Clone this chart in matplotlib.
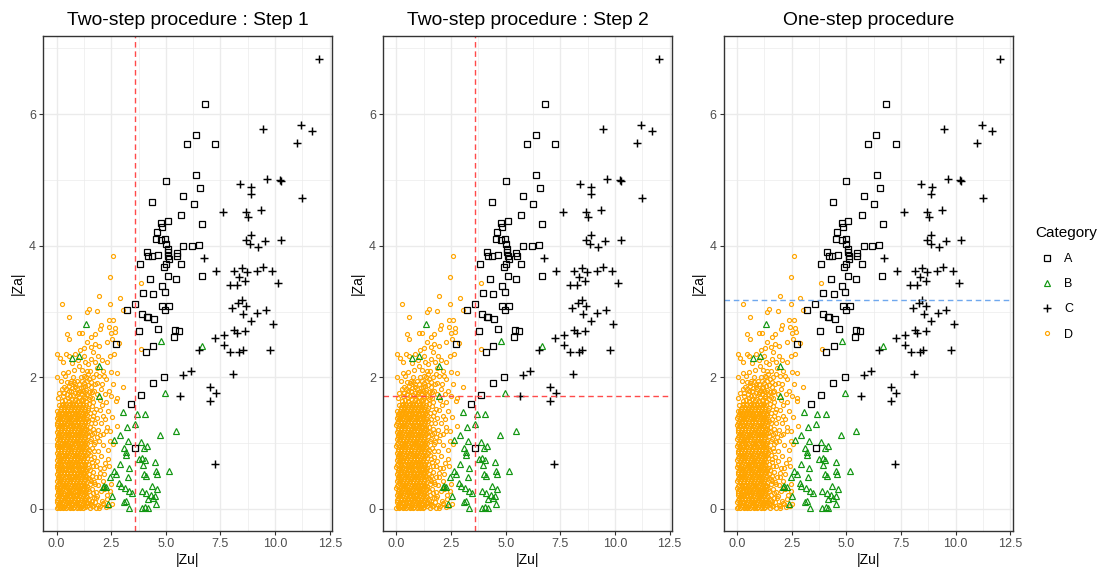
import matplotlib
matplotlib.use("Agg")
import matplotlib.pyplot as plt
from matplotlib.lines import Line2D
import numpy as np

plt.rcParams["font.family"] = ["Liberation Sans", "DejaVu Sans"]

# |Zu|, |Za| pairs per category
a_pts = [(6.81, 6.15), (6.37, 5.69), (5.98, 5.55), (7.27, 5.55), (6.40, 5.07), (5.00, 4.98),
         (6.55, 4.88), (4.38, 4.66), (5.79, 4.75), (6.27, 4.64), (5.70, 4.46), (5.09, 4.38),
         (4.80, 4.34), (4.84, 4.29), (6.66, 4.33), (4.58, 4.21), (4.54, 4.10), (4.78, 4.08),
         (4.96, 4.10), (4.99, 4.02), (5.08, 3.95), (5.79, 3.99), (6.19, 3.99), (6.50, 4.01),
         (4.13, 3.90), (4.18, 3.85), (4.35, 3.85), (4.63, 3.86), (5.10, 3.85), (5.08, 3.90),
         (5.14, 3.80), (5.49, 3.89), (5.50, 3.84), (4.99, 3.73), (4.90, 3.68), (3.84, 3.73),
         (5.71, 3.73), (5.09, 3.54), (6.64, 3.54), (4.29, 3.49), (5.45, 3.49), (4.81, 3.39),
         (3.94, 3.28), (4.43, 3.27), (4.95, 3.29), (3.58, 3.11), (4.83, 3.08), (5.16, 3.09),
         (4.96, 3.03), (3.21, 3.02), (3.93, 2.97), (4.15, 2.92), (4.19, 2.91), (4.48, 2.89),
         (4.66, 2.73), (3.77, 2.70), (5.44, 2.72), (5.60, 2.70), (5.39, 2.61), (4.43, 2.47),
         (2.72, 2.51), (4.08, 2.38), (4.93, 2.00), (4.40, 1.92), (3.85, 1.73), (3.39, 1.60),
         (3.59, 0.92)]

b_pts = [(1.33, 2.81), (0.72, 2.30), (1.04, 2.33), (1.94, 2.17), (1.96, 1.72), (4.78, 2.56),
         (6.67, 2.48), (4.95, 1.76), (3.06, 1.48), (3.67, 1.44), (4.06, 1.44), (3.61, 1.29),
         (3.23, 1.24), (5.45, 1.19), (4.73, 1.13), (2.92, 1.13), (2.63, 1.05), (3.28, 1.03),
         (3.85, 1.02), (3.10, 0.93), (3.18, 0.87), (3.18, 0.82), (4.02, 0.93), (4.15, 0.95),
         (3.76, 0.76), (3.91, 0.78), (4.03, 0.74), (3.94, 0.67), (4.51, 0.72), (5.16, 0.58),
         (2.90, 0.68), (3.30, 0.62), (4.54, 0.58), (4.58, 0.53), (4.00, 0.53), (4.09, 0.50),
         (2.62, 0.57), (2.72, 0.53), (2.45, 0.48), (3.26, 0.49), (2.87, 0.40), (2.94, 0.35),
         (4.36, 0.35), (2.16, 0.35), (2.26, 0.33), (2.11, 0.33), (3.15, 0.32), (3.33, 0.28),
         (3.47, 0.24), (3.90, 0.28), (4.09, 0.24), (4.31, 0.21), (4.61, 0.30), (2.52, 0.19),
         (4.51, 0.20), (4.40, 0.17), (4.17, 0.15), (3.18, 0.12), (3.09, 0.10), (2.37, 0.07),
         (3.33, 0.02), (3.90, 0.02), (4.05, 0.03), (4.17, 0.02), (4.54, 0.07)]

c_pts = [(12.02, 6.84), (9.46, 5.78), (11.19, 5.83), (11.68, 5.74), (10.99, 5.56), (9.65, 5.01),
         (10.21, 5.00), (10.26, 4.99), (8.41, 4.94), (8.90, 4.90), (8.88, 4.79), (11.25, 4.72),
         (7.63, 4.52), (8.69, 4.51), (9.37, 4.54), (8.76, 4.43), (8.88, 4.16), (8.67, 4.08),
         (8.85, 4.02), (9.22, 3.98), (9.56, 4.07), (10.26, 4.09), (6.73, 3.82), (7.30, 3.61),
         (8.12, 3.61), (8.47, 3.66), (8.36, 3.53), (8.70, 3.60), (8.62, 3.47), (9.16, 3.62),
         (9.43, 3.67), (9.86, 3.62), (10.13, 3.44), (7.92, 3.41), (8.24, 3.41), (8.32, 3.13),
         (8.47, 3.17), (8.04, 3.06), (8.65, 3.09), (8.55, 2.96), (9.17, 2.98), (9.57, 3.03),
         (8.88, 2.85), (9.92, 2.81), (8.13, 2.72), (8.24, 2.68), (8.64, 2.71), (7.66, 2.65),
         (7.25, 2.60), (7.66, 2.49), (7.94, 2.38), (8.36, 2.38), (8.51, 2.41), (9.77, 2.41),
         (6.50, 2.41), (5.80, 2.03), (6.13, 2.10), (8.09, 2.05), (5.67, 1.72), (7.03, 1.85),
         (7.29, 1.76), (7.02, 1.64), (7.23, 0.68)]

# dense body of D: one |Za| level with its |Zu| values
d_rows = [
    (0.01, [0.00, 0.14, 0.30, 0.45, 0.61, 0.77, 0.92, 1.07, 1.22]),
    (0.035, [0.05, 0.20, 0.35, 0.51, 0.66, 0.82, 0.97, 1.12, 1.28]),
    (0.06, [0.07, 0.22, 0.38, 0.53, 0.69, 0.84, 1.00, 1.15, 1.30]),
    (0.085, [0.11, 0.26, 0.42, 0.57, 0.73, 0.88, 1.04, 1.19, 1.34]),
    (0.11, [0.01, 0.15, 0.31, 0.46, 0.62, 0.78, 0.93, 1.08, 1.24]),
    (0.135, [0.04, 0.19, 0.34, 0.50, 0.65, 0.81, 0.96, 1.11, 1.27]),
    (0.16, [0.08, 0.23, 0.37, 0.54, 0.70, 0.85, 0.99, 1.16, 1.31]),
    (0.19, [0.12, 0.27, 0.43, 0.58, 0.74, 0.89, 1.05, 1.20, 1.35]),
    (0.22, [0.02, 0.16, 0.32, 0.47, 0.63, 0.77, 0.94, 1.09, 1.25]),
    (0.245, [0.05, 0.19, 0.36, 0.51, 0.66, 0.82, 0.97, 1.13, 1.28]),
    (0.27, [0.06, 0.21, 0.39, 0.55, 0.68, 0.86, 1.01, 1.14, 1.29]),
    (0.295, [0.11, 0.27, 0.42, 0.58, 0.73, 0.89, 1.04, 1.19, 1.34]),
    (0.32, [0.00, 0.17, 0.30, 0.46, 0.61, 0.79, 0.92, 1.08, 1.23]),
    (0.345, [0.04, 0.20, 0.35, 0.50, 0.66, 0.81, 0.97, 1.12, 1.27]),
    (0.37, [0.08, 0.24, 0.38, 0.53, 0.71, 0.84, 1.00, 1.17, 1.32]),
    (0.40, [0.12, 0.27, 0.43, 0.58, 0.74, 0.89, 1.05, 1.20, 1.36]),
    (0.43, [0.01, 0.15, 0.31, 0.47, 0.62, 0.77, 0.95, 1.07, 1.24]),
    (0.455, [0.05, 0.19, 0.35, 0.51, 0.66, 0.82, 0.98, 1.12, 1.28]),
    (0.48, [0.07, 0.22, 0.37, 0.55, 0.69, 0.85, 0.99, 1.15, 1.30]),
    (0.505, [0.11, 0.26, 0.42, 0.58, 0.74, 0.89, 1.04, 1.20, 1.35]),
    (0.53, [0.02, 0.16, 0.33, 0.46, 0.63, 0.78, 0.93, 1.09, 1.22]),
    (0.56, [0.05, 0.20, 0.36, 0.50, 0.66, 0.81, 0.97, 1.13, 1.27]),
    (0.59, [0.08, 0.23, 0.38, 0.53, 0.70, 0.86, 1.01, 1.16, 1.31]),
    (0.615, [0.12, 0.27, 0.42, 0.57, 0.73, 0.89, 1.05, 1.20, 1.35]),
    (0.64, [0.00, 0.15, 0.31, 0.48, 0.61, 0.77, 0.94, 1.08, 1.25]),
    (0.665, [0.04, 0.19, 0.35, 0.51, 0.65, 0.81, 0.97, 1.11, 1.28]),
    (0.69, [0.06, 0.22, 0.39, 0.54, 0.69, 0.84, 0.99, 1.14, 1.29]),
    (0.72, [0.11, 0.26, 0.43, 0.58, 0.73, 0.88, 1.04, 1.19, 1.34]),
    (0.75, [0.01, 0.17, 0.30, 0.46, 0.62, 0.79, 0.92, 1.07, 1.23]),
    (0.775, [0.05, 0.20, 0.34, 0.50, 0.66, 0.82, 0.96, 1.12, 1.27]),
    (0.80, [0.08, 0.23, 0.38, 0.53, 0.70, 0.85, 1.00, 1.17, 1.32]),
    (0.825, [0.12, 0.27, 0.42, 0.57, 0.74, 0.89, 1.04, 1.21, 1.36]),
    (0.85, [0.02, 0.16, 0.32, 0.47, 0.63, 0.78, 0.95, 1.09, 1.24]),
    (0.88, [0.05, 0.19, 0.35, 0.51, 0.66, 0.82, 0.98, 1.12, 1.27]),
    (0.91, [0.07, 0.21, 0.37, 0.55, 0.68, 0.86, 1.01, 1.15, 1.30]),
    (0.935, [0.11, 0.26, 0.41, 0.58, 0.72, 0.89, 1.05, 1.19, 1.34]),
    (0.96, [0.00, 0.15, 0.31, 0.46, 0.62, 0.77, 0.93, 1.08, 1.22]),
    (0.985, [0.04, 0.19, 0.35, 0.50, 0.66, 0.80, 0.96, 1.12, 1.26]),
    (1.01, [0.08, 0.24, 0.38, 0.54, 0.71, 0.84, 0.99, 1.16, 1.31]),
    (1.04, [0.12, 0.28, 0.42, 0.58, 0.75, 0.88, 1.03, 1.20, 1.35]),
    (1.07, [0.01, 0.16, 0.30, 0.47, 0.61, 0.79, 0.94, 1.07, 1.25]),
    (1.095, [0.05, 0.20, 0.34, 0.51, 0.65, 0.82, 0.97, 1.11, 1.28]),
    (1.12, [0.07, 0.22, 0.39, 0.53, 0.69, 0.85, 1.00, 1.14, 1.29]),
    (1.145, [0.11, 0.26, 0.43, 0.57, 0.73, 0.89, 1.04, 1.18, 1.33]),
    (1.17, [0.02, 0.17, 0.32, 0.48, 0.63, 0.78, 0.92, 1.09, 1.23]),
    (1.20, [0.05, 0.20, 0.35, 0.51, 0.66, 0.82, 0.96, 1.12, 1.27]),
    (1.23, [0.06, 0.23, 0.37, 0.54, 0.70, 0.86, 1.01, 1.15, 1.32]),
    (1.255, [0.11, 0.27, 0.41, 0.58, 0.74, 0.89, 1.05, 1.19, 1.36]),
    (1.28, [0.00, 0.15, 0.31, 0.46, 0.62, 0.77, 0.95, 1.08, 1.24]),
    (1.305, [0.04, 0.19, 0.35, 0.50, 0.66, 0.81, 0.98, 1.12, 1.28]),
    (1.33, [0.08, 0.21, 0.38, 0.55, 0.68, 0.84, 0.99, 1.17, 1.30]),
    (1.36, [0.12, 0.25, 0.42, 0.58, 0.72, 0.88, 1.03, 1.20, 1.34]),
    (1.39, [0.01, 0.16, 0.30, 0.47, 0.63, 0.79, 0.93, 1.07, 1.22]),
    (1.415, [0.05, 0.20, 0.34, 0.50, 0.66, 0.82, 0.96, 1.11, 1.26]),
    (1.44, [0.07, 0.24, 0.39, 0.53, 0.69, 0.85, 1.00, 1.15, 1.31]),
    (1.465, [0.11, 0.27, 0.42, 0.57, 0.73, 0.88, 1.04, 1.19, 1.35]),
    (1.49, [0.02, 0.15, 0.32, 0.46, 0.61, 0.78, 0.94, 1.09, 1.25]),
    (1.52, [0.19, 0.35, 0.50, 0.65, 0.82, 0.97, 1.12, 1.28]),
    (1.55, [0.22, 0.37, 0.54, 0.70, 0.86, 1.01, 1.16, 1.29]),
    (1.575, [0.10, 0.26, 0.41, 0.58, 0.73, 0.89, 1.04, 1.19, 1.33]),
    (1.60, [0.29, 0.45, 0.62, 0.76, 0.91, 1.07, 1.21]),
]

# D points around the dense body
d_pts = [(1.38, 0.04), (1.52, 0.02), (1.66, 0.05), (1.80, 0.01), (1.45, 0.09), (1.60, 0.12),
         (1.75, 0.10), (1.90, 0.06), (1.40, 0.18), (1.55, 0.21), (1.70, 0.17), (1.86, 0.20),
         (1.47, 0.27), (1.63, 0.30), (1.79, 0.26), (1.38, 0.35), (1.53, 0.38), (1.71, 0.41),
         (1.90, 0.36), (1.44, 0.47), (1.60, 0.50), (1.82, 0.48), (1.37, 0.57), (1.52, 0.60),
         (1.68, 0.56), (1.46, 0.68), (1.61, 0.71), (1.80, 0.66), (1.39, 0.78), (1.55, 0.82),
         (1.73, 0.79), (1.48, 0.90), (1.64, 0.93), (1.88, 0.88), (1.38, 1.00), (1.54, 1.03),
         (1.70, 0.99), (1.45, 1.11), (1.62, 1.14), (1.83, 1.09), (1.37, 1.21), (1.51, 1.25),
         (1.68, 1.22), (1.44, 1.33), (1.60, 1.36), (1.76, 1.31), (1.38, 1.43), (1.53, 1.46),
         (1.69, 1.42), (1.46, 1.54), (1.62, 1.57), (1.80, 1.52),
         (1.50, 0.14), (1.47, 0.53), (1.43, 0.85), (1.49, 1.17), (1.42, 1.50), (1.58, 0.43),
         (1.40, 0.10), (1.57, 0.07), (1.68, 0.24), (1.42, 0.31), (1.55, 0.46), (1.66, 0.65),
         (1.42, 0.62), (1.58, 0.76), (1.70, 0.88), (1.41, 0.93), (1.59, 1.07), (1.72, 1.15),
         (1.40, 1.15), (1.56, 1.30), (1.71, 1.48), (1.40, 1.36), (1.50, 1.59), (1.67, 1.63),
         (1.78, 0.38), (1.85, 0.73), (1.77, 1.02), (1.90, 1.20), (1.85, 1.38),
         (1.20, 1.66), (1.34, 1.64), (1.48, 1.67), (1.27, 1.72), (1.41, 1.74), (1.55, 1.70),
         (1.22, 1.79), (1.36, 1.81), (1.50, 1.78), (1.30, 1.87), (1.44, 1.88), (1.58, 1.85),
         (1.38, 1.94), (1.50, 1.97), (1.33, 2.00), (1.05, 1.70), (0.98, 1.78), (1.12, 1.84),
         (0.05, 1.68), (0.30, 1.71), (0.52, 1.69), (0.75, 1.73), (0.90, 1.67), (0.45, 1.82),
         (0.66, 1.79), (0.86, 1.86),
         (0.25, 1.64), (0.40, 1.66), (0.55, 1.64), (0.68, 1.67), (0.83, 1.65), (0.98, 1.64),
         (1.13, 1.66), (1.28, 1.68), (0.33, 1.76), (0.50, 1.75), (0.62, 1.72), (0.85, 1.77),
         (1.00, 1.74), (1.15, 1.75), (1.30, 1.78), (0.27, 1.83), (0.55, 1.80), (0.72, 1.84),
         (0.92, 1.82), (1.07, 1.80), (1.20, 1.86), (0.60, 1.91), (0.78, 1.93), (1.02, 1.90),
         (1.16, 1.95), (1.27, 2.02), (1.43, 2.05), (1.58, 1.93), (1.62, 1.78),
         (1.98, 0.05), (2.12, 0.09), (2.25, 0.03), (2.02, 0.27), (2.18, 0.31), (1.97, 0.55),
         (2.15, 0.62), (2.05, 0.80), (2.22, 0.70), (1.99, 1.12), (2.13, 0.97), (2.04, 1.30),
         (2.20, 1.36), (1.97, 1.50), (2.10, 1.58), (2.28, 1.18), (2.40, 0.05), (2.52, 0.08),
         (2.30, 0.15), (2.45, 0.28),
         (2.60, 3.84), (2.45, 3.53), (0.27, 3.12), (1.94, 3.23), (2.89, 3.21), (2.45, 3.12),
         (3.03, 3.02), (0.59, 2.92), (1.47, 3.04), (1.38, 3.00), (1.87, 3.01), (3.85, 3.43),
         (3.87, 2.43), (0.47, 2.66), (0.59, 2.59), (1.01, 2.68), (1.16, 2.68), (2.05, 2.79),
         (1.99, 2.74), (2.42, 2.76), (2.51, 2.67), (2.66, 2.75), (2.54, 2.59), (2.58, 2.87),
         (2.39, 2.87), (0.03, 2.36), (0.43, 2.35), (0.56, 2.33), (0.85, 2.36), (1.07, 2.41),
         (1.26, 2.45), (1.56, 2.46), (1.38, 2.53), (1.74, 2.51), (1.93, 2.48), (2.29, 2.53),
         (1.74, 2.66), (1.58, 2.61), (2.88, 2.52), (2.69, 2.69), (0.28, 2.23), (0.69, 2.22),
         (0.99, 2.27), (1.30, 2.23), (1.58, 2.28), (1.76, 2.23), (2.06, 2.26), (2.29, 2.23),
         (2.45, 2.33), (2.65, 2.36), (0.28, 2.06), (0.54, 2.08), (0.80, 2.11), (1.18, 2.11),
         (1.38, 2.09), (1.84, 2.15), (2.11, 2.10), (2.49, 2.08), (2.75, 2.07), (0.02, 2.00),
         (0.22, 1.94), (0.47, 1.93), (0.65, 1.95), (0.85, 1.90), (2.60, 1.90), (2.26, 1.98),
         (2.07, 1.90), (3.03, 1.85), (0.13, 1.77), (1.87, 1.74), (2.22, 1.75), (2.75, 1.69),
         (2.72, 1.64), (2.26, 1.62), (2.35, 1.49), (2.78, 1.26), (2.11, 1.42), (2.45, 1.04),
         (2.35, 0.89), (2.57, 0.99), (2.11, 1.14), (2.29, 1.24), (1.93, 1.04), (2.37, 0.76),
         (1.99, 0.63), (2.19, 0.53), (1.94, 0.48), (2.11, 0.43), (2.33, 0.22), (2.07, 0.12),
         (1.81, 0.17), (1.61, 0.05), (1.96, 0.01), (2.14, 0.07),
         (1.70, 1.80), (1.85, 1.92), (1.95, 2.02), (2.02, 1.82), (1.66, 2.00), (1.80, 2.05),
         (2.18, 2.02), (1.62, 1.68), (2.38, 1.80), (2.50, 1.72), (2.55, 1.40), (2.46, 1.19),
         (2.48, 0.38), (2.41, 0.66),
         (0.35, 1.85), (0.58, 1.87), (0.75, 2.00), (0.95, 1.95), (1.10, 2.00), (1.25, 1.92),
         (0.40, 2.02), (1.05, 2.17), (1.25, 2.32), (1.45, 2.20), (1.65, 2.38), (1.90, 2.32),
         (2.00, 1.65), (1.75, 1.90), (1.55, 2.10), (0.15, 2.30)]

titles = ["Two-step procedure : Step 1", "Two-step procedure : Step 2", "One-step procedure"]
zu_cut = 3.6      # |Zu| threshold of the two-step procedure
za_cut_two = 1.71  # |Za| threshold, step 2
za_cut_one = 3.18  # |Za| threshold, one-step procedure

d_core = [(zu, za) for za, zus in d_rows for zu in zus]
d_all = np.array(d_core + d_pts)
a = np.array(a_pts)
b = np.array(b_pts)
c = np.array(c_pts)

allpts = np.vstack([a, b, c, d_all])
xmin, xmax = allpts[:, 0].min(), allpts[:, 0].max()
ymin, ymax = allpts[:, 1].min(), allpts[:, 1].max()
xpad = 0.05 * (xmax - xmin)
ypad = 0.05 * (ymax - ymin)

green = "#119611"
orange = "#FFA500"
red_line = "#FF4A4A"
blue_line = "#6FA8EE"

styles = {
    "A": dict(marker="s", ms=3.9, mfc="none", mec="black", mew=0.9),
    "B": dict(marker="^", ms=4.2, mfc="none", mec=green, mew=0.85),
    "C": dict(marker="+", ms=5.6, mec="black", mew=1.05),
    "D": dict(marker="o", ms=2.9, mfc="none", mec=orange, mew=0.85),
}

fig = plt.figure(figsize=(11.06, 5.75), dpi=100)
lefts = [43.4 / 1106, 383.3 / 1106, 724.0 / 1106]
width = 289.0 / 1106
bottom = (575 - 530.8) / 575
height = 494.4 / 575

for i, left in enumerate(lefts):
    ax = fig.add_axes([left, bottom, width, height])
    ax.set_xlim(xmin - xpad, xmax + xpad)
    ax.set_ylim(ymin - ypad, ymax + ypad)

    ax.set_xticks([0, 2.5, 5, 7.5, 10, 12.5])
    ax.set_xticklabels(["0.0", "2.5", "5.0", "7.5", "10.0", "12.5"])
    ax.set_yticks([0, 2, 4, 6])
    ax.set_xticks([1.25, 3.75, 6.25, 8.75, 11.25], minor=True)
    ax.set_yticks([1, 3, 5, 7], minor=True)
    ax.grid(which="major", color="#EBEBEB", lw=1.0)
    ax.grid(which="minor", color="#EBEBEB", lw=0.5)
    ax.set_axisbelow(True)
    ax.tick_params(which="major", direction="out", length=2.8, width=0.8,
                   color="#333333", labelcolor="#4D4D4D", labelsize=9, pad=2.5)
    ax.tick_params(which="minor", length=0)
    for s in ax.spines.values():
        s.set_color("#333333")
        s.set_linewidth(1.0)

    ax.plot(d_all[:, 0], d_all[:, 1], ls="none", **styles["D"])
    ax.plot(b[:, 0], b[:, 1], ls="none", **styles["B"])
    ax.plot(a[:, 0], a[:, 1], ls="none", **styles["A"])
    ax.plot(c[:, 0], c[:, 1], ls="none", **styles["C"])

    if i == 0:
        ax.axvline(zu_cut, color=red_line, lw=1.0, ls=(0, (4, 2.7)))
    elif i == 1:
        ax.axvline(zu_cut, color=red_line, lw=1.0, ls=(0, (4, 2.7)))
        ax.axhline(za_cut_two, color=red_line, lw=1.0, ls=(0, (4, 2.7)))
    else:
        ax.axhline(za_cut_one, color=blue_line, lw=1.0, ls=(0, (4, 2.7)))

    ax.set_title(titles[i], fontsize=13.9, pad=8)
    ax.set_xlabel("|Zu|", fontsize=10, labelpad=2)
    ax.set_ylabel("|Za|", fontsize=10, labelpad=3)

handles = [Line2D([], [], ls="none", **styles[k]) for k in "ABCD"]
fig.legend(handles, list("ABCD"), title="Category", loc="upper left",
           bbox_to_anchor=(1035 / 1106, 1 - 226 / 575), frameon=False,
           fontsize=9, title_fontsize=11, alignment="left", borderpad=0,
           borderaxespad=0, handlelength=1.9, handletextpad=0.45, labelspacing=1.05)

fig.savefig("out.png", dpi=100)
